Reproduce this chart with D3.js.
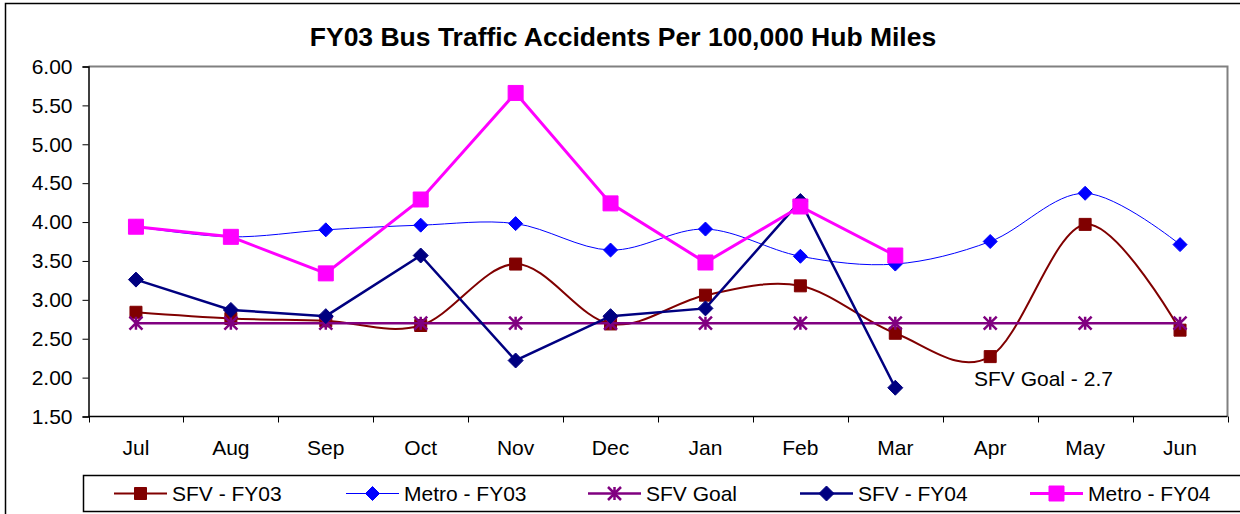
<!DOCTYPE html>
<html>
<head>
<meta charset="utf-8">
<script src="https://cdn.jsdelivr.net/npm/d3@7"></script>
<style>
  body { margin: 0; background: #fff; }
  svg { font-family: "Liberation Sans", Arial, sans-serif; }
</style>
</head>
<body>
<div class="canvas"></div>
<script>
var width = 1240,
   height = 514;

// months of the fiscal year
const months = ['Jul', 'Aug', 'Sep', 'Oct', 'Nov', 'Dec', 'Jan', 'Feb', 'Mar', 'Apr', 'May', 'Jun'];
const yTicks = [1.5, 2, 2.5, 3, 3.5, 4, 4.5, 5, 5.5, 6];

// values
const sfvFY03 = [2.84, 2.76, 2.73, 2.67, 3.46, 2.69, 3.06, 3.18, 2.57, 2.27, 3.97, 2.61];
const metroFY03 = [3.94, 3.81, 3.90, 3.96, 3.98, 3.64, 3.91, 3.56, 3.46, 3.75, 4.37, 3.71];
const sfvGoal = [2.7, 2.7, 2.7, 2.7, 2.7, 2.7, 2.7, 2.7, 2.7, 2.7, 2.7, 2.7];
const sfvFY04 = [3.26, 2.87, 2.79, 3.57, 2.22, 2.79, 2.89, 4.27, 1.87];
const metroFY04 = [3.94, 3.81, 3.34, 4.29, 5.66, 4.24, 3.48, 4.20, 3.57];

var series = [
   { name: 'SFV - FY03', values: sfvFY03, color: '#800000', width: 2, marker: 'square', size: 12, smooth: true },
   { name: 'Metro - FY03', values: metroFY03, color: '#0000ff', width: 1, marker: 'diamond', size: 14, smooth: true },
   { name: 'SFV Goal', values: sfvGoal, color: '#800080', width: 2.5, marker: 'star', size: 13, smooth: false },
   { name: 'SFV - FY04', values: sfvFY04, color: '#000080', width: 2.5, marker: 'diamond', size: 15, smooth: false },
   { name: 'Metro - FY04', values: metroFY04, color: '#ff00ff', width: 3, marker: 'square', size: 15, smooth: false }
];

// plot area
var plot = { left: 88.5, right: 1227.5, top: 66.5, bottom: 416.5 };
var fontSize = '21px';

var x = d3.scaleBand()
   .domain(months)
   .range([plot.left, plot.right]);

var y = d3.scaleLinear()
   .domain([1.5, 6])
   .range([plot.bottom, plot.top]);

const svg = d3.select('.canvas')
   .append('svg')
   .attr('width', width)
   .attr('height', height);

svg.append('rect')
   .attr('width', width)
   .attr('height', height)
   .attr('fill', '#fff');

// outer chart frame (runs off the right / bottom edge)
svg.append('rect')
   .attr('x', 5.5)
   .attr('y', 3.5)
   .attr('width', width + 20)
   .attr('height', height + 20)
   .attr('fill', 'none')
   .attr('stroke', '#000')
   .attr('stroke-width', 1.5);

// title
svg.append('text')
   .attr('x', 623)
   .attr('y', 46)
   .attr('text-anchor', 'middle')
   .style('font-size', '26.5px')
   .style('font-weight', 'bold')
   .text('FY03 Bus Traffic Accidents Per 100,000 Hub Miles');

// plot area border: gray top/right
svg.append('path')
   .attr('d', `M${plot.left},${plot.top}H${plot.right}V${plot.bottom}`)
   .attr('fill', 'none')
   .attr('stroke', '#808080')
   .attr('stroke-width', 2);

// y axis
var yAxis = svg.append('g')
   .attr('transform', `translate(${plot.left},0)`)
   .call(d3.axisLeft(y).tickValues(yTicks).tickSize(6).tickPadding(10).tickFormat(d3.format('.2f')));
yAxis.select('.domain').attr('stroke', '#000').attr('stroke-width', 1.5);
yAxis.selectAll('.tick line').attr('stroke', '#000');
yAxis.selectAll('.tick text')
   .attr('fill', '#000')
   .style('font-size', fontSize)
   .style('font-family', '"Liberation Sans", Arial, sans-serif');

// x axis - ticks at category boundaries
var boundaries = months.map(m => x(m)).concat([plot.right]);
svg.append('line')
   .attr('x1', plot.left).attr('x2', plot.right)
   .attr('y1', plot.bottom).attr('y2', plot.bottom)
   .attr('stroke', '#000')
   .attr('stroke-width', 1.5);
svg.selectAll('.xtick')
   .data(boundaries)
   .enter().append('line')
      .attr('x1', d => Math.round(d) + 0.5).attr('x2', d => Math.round(d) + 0.5)
      .attr('y1', plot.bottom).attr('y2', plot.bottom + 6)
      .attr('stroke', '#000');
svg.selectAll('.xlabel')
   .data(months)
   .enter().append('text')
      .attr('x', d => x(d) + x.bandwidth() / 2)
      .attr('y', 454.5)
      .attr('text-anchor', 'middle')
      .style('font-size', fontSize)
      .text(d => d);

function markerPath(type, s) {
   var h = s / 2;
   if (type === 'square') return `M${-h},${-h}H${h}V${h}H${-h}Z`;
   if (type === 'diamond') return `M0,${-h}L${h},0L0,${h}L${-h},0Z`;
   // asterisk: X plus vertical bar
   return `M${-h},${-h}L${h},${h}M${-h},${h}L${h},${-h}M0,${-h}V${h}`;
}

function drawMarker(g, type, color, s) {
   if (type === 'star') {
      g.append('path')
         .attr('d', markerPath(type, s))
         .attr('fill', 'none')
         .attr('stroke', color)
         .attr('stroke-width', 2.5);
   } else {
      g.append('path')
         .attr('d', markerPath(type, s))
         .attr('fill', color)
         .attr('stroke', color)
         .attr('stroke-width', 1);
   }
}

var lineSmooth = d3.line()
   .x((d, i) => x(months[i]) + x.bandwidth() / 2)
   .y(d => y(d))
   .curve(d3.curveCardinal.tension(0));

var lineStraight = d3.line()
   .x((d, i) => x(months[i]) + x.bandwidth() / 2)
   .y(d => y(d));

var chartLayer = svg.append('g');

series.forEach(s => {
   chartLayer.append('path')
      .attr('d', (s.smooth ? lineSmooth : lineStraight)(s.values))
      .attr('fill', 'none')
      .attr('stroke', s.color)
      .attr('stroke-width', s.width);

   s.values.forEach((v, i) => {
      var g = chartLayer.append('g')
         .attr('transform', `translate(${x(months[i]) + x.bandwidth() / 2},${y(v)})`);
      drawMarker(g, s.marker, s.color, s.size);
   });
});

// annotation
svg.append('text')
   .attr('x', 974)
   .attr('y', 386)
   .style('font-size', fontSize)
   .text('SFV Goal - 2.7');

// legend
svg.append('rect')
   .attr('x', 83.5)
   .attr('y', 475.5)
   .attr('width', width)
   .attr('height', 36)
   .attr('fill', '#fff')
   .attr('stroke', '#000')
   .attr('stroke-width', 1.5);

var legendX = [114, 346, 588, 800, 1030];
series.forEach((s, i) => {
   var lg = svg.append('g')
      .attr('transform', `translate(${legendX[i]},493.5)`);
   lg.append('line')
      .attr('x1', 0).attr('x2', 53)
      .attr('stroke', s.color)
      .attr('stroke-width', s.width);
   var mg = lg.append('g').attr('transform', 'translate(26.5,0)');
   drawMarker(mg, s.marker, s.color, s.size);
   lg.append('text')
      .attr('x', 58)
      .attr('y', 7.5)
      .style('font-size', fontSize)
      .text(s.name);
});
</script>
</body>
</html>
